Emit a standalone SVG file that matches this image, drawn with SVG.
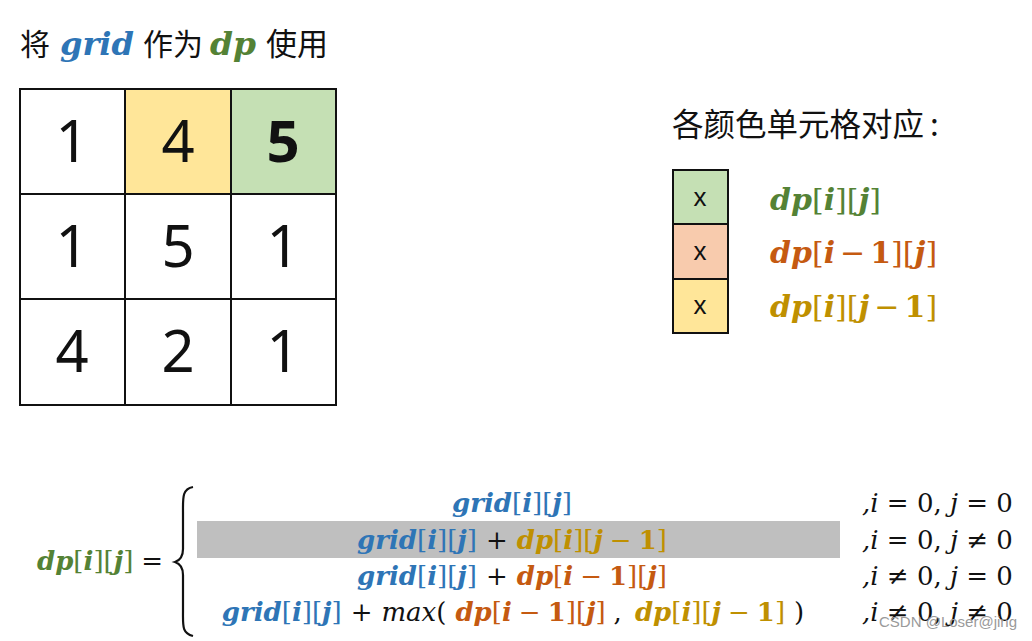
<svg xmlns="http://www.w3.org/2000/svg" width="1032" height="641" viewBox="0 0 1032 641">
<style>
.cjk{font-family:"Noto Sans CJK SC","Noto Sans",sans-serif;font-size:30px;fill:#111}
.m{font-family:"DejaVu Serif","Liberation Serif",serif;font-size:26px}
.v{font-weight:bold;font-style:italic}
.blue{fill:#2E75B6}.green{fill:#548235}.orange{fill:#C55A11}.gold{fill:#BF9000}.blk{fill:#111}
.cell{stroke:#111;stroke-width:2}
.dig{font-family:"Noto Sans",sans-serif;font-size:58px;fill:#111;text-anchor:middle}
.x{font-family:"Liberation Sans",sans-serif;font-size:26px;fill:#111;text-anchor:middle}
.cond{font-family:"DejaVu Serif",serif;font-size:26px;fill:#111;font-style:italic}
.lg{font-size:30px}
</style>
<rect width="1032" height="641" fill="#fff"/>
<g id="title">
<text x="20" y="55" class="cjk">将</text>
<text x="60" y="55" class="m v blue" style="font-size:32px" textLength="74" lengthAdjust="spacingAndGlyphs">grid</text>
<text x="143" y="55" class="cjk">作为</text>
<text x="210" y="55" class="m v green" style="font-size:32px" textLength="46" lengthAdjust="spacingAndGlyphs">dp</text>
<text x="266" y="55" class="cjk" style="font-size:31px">使用</text>
</g>
<g id="grid">
<rect x="20" y="89" width="105" height="105" fill="#fff" class="cell"/>
<rect x="125" y="89" width="106" height="105" fill="#FFE699" class="cell"/>
<rect x="231" y="89" width="105" height="105" fill="#C5E0B4" class="cell"/>
<rect x="20" y="194" width="105" height="105" fill="#fff" class="cell"/>
<rect x="125" y="194" width="106" height="105" fill="#fff" class="cell"/>
<rect x="231" y="194" width="105" height="105" fill="#fff" class="cell"/>
<rect x="20" y="299" width="105" height="106" fill="#fff" class="cell"/>
<rect x="125" y="299" width="106" height="106" fill="#fff" class="cell"/>
<rect x="231" y="299" width="105" height="106" fill="#fff" class="cell"/>
<text x="72" y="162" class="dig">1</text>
<text x="178" y="162" class="dig">4</text>
<text x="283" y="162" class="dig" font-weight="bold">5</text>
<text x="72" y="267" class="dig">1</text>
<text x="178" y="267" class="dig">5</text>
<text x="283" y="267" class="dig">1</text>
<text x="72" y="372" class="dig">4</text>
<text x="178" y="372" class="dig">2</text>
<text x="283" y="372" class="dig">1</text>
</g>
<g id="legend">
<text x="672" y="136" class="cjk" style="font-size:31.5px">各颜色单元格对应<tspan dx="6">:</tspan></text>
<rect x="673" y="170" width="55" height="54" fill="#C5E0B4" class="cell"/>
<rect x="673" y="224" width="55" height="55" fill="#F8CBAD" class="cell"/>
<rect x="673" y="279" width="55" height="54" fill="#FFE699" class="cell"/>
<text x="700" y="206" class="x">x</text>
<text x="700" y="260" class="x">x</text>
<text x="700" y="314" class="x">x</text>
<text x="770" y="210" class="m lg green"><tspan class="v">dp</tspan>[<tspan class="v">i</tspan>][<tspan class="v">j</tspan>]</text>
<text x="770" y="263" class="m lg orange"><tspan class="v">dp</tspan>[<tspan class="v">i</tspan><tspan dx="5">−</tspan><tspan dx="5" font-weight="bold">1</tspan>][<tspan class="v">j</tspan>]</text>
<text x="770" y="317" class="m lg gold"><tspan class="v">dp</tspan>[<tspan class="v">i</tspan>][<tspan class="v">j</tspan><tspan dx="5">−</tspan><tspan dx="5" font-weight="bold">1</tspan>]</text>
</g>
<g id="formula">
<rect x="197" y="521" width="643" height="37" fill="#BFBFBF"/>
<text x="37" y="570" class="m"><tspan class="green"><tspan class="v">dp</tspan>[<tspan class="v">i</tspan>][<tspan class="v">j</tspan>]</tspan><tspan class="blk" dx="8">=</tspan></text>
<path d="M193,487 C182,489 183,498 183,512 L183,549 C183,556 181,560 175,562 C181,564 183,568 183,575 L183,612 C183,626 182,633 193,636" fill="none" stroke="#111" stroke-width="2.2"/>
<text x="512" y="512" class="m" text-anchor="middle"><tspan class="blue"><tspan class="v">grid</tspan>[<tspan class="v">i</tspan>][<tspan class="v">j</tspan>]</tspan></text>
<text x="512" y="549" class="m" text-anchor="middle"><tspan class="blue"><tspan class="v">grid</tspan>[<tspan class="v">i</tspan>][<tspan class="v">j</tspan>]</tspan><tspan class="blk" dx="9">+</tspan><tspan class="gold" dx="9"><tspan class="v">dp</tspan>[<tspan class="v">i</tspan>][<tspan class="v">j</tspan><tspan dx="7">−</tspan><tspan dx="7" font-weight="bold">1</tspan>]</tspan></text>
<text x="512" y="585" class="m" text-anchor="middle"><tspan class="blue"><tspan class="v">grid</tspan>[<tspan class="v">i</tspan>][<tspan class="v">j</tspan>]</tspan><tspan class="blk" dx="9">+</tspan><tspan class="orange" dx="9"><tspan class="v">dp</tspan>[<tspan class="v">i</tspan><tspan dx="7">−</tspan><tspan dx="7" font-weight="bold">1</tspan>][<tspan class="v">j</tspan>]</tspan></text>
<text x="513" y="621" class="m" text-anchor="middle"><tspan class="blue"><tspan class="v">grid</tspan>[<tspan class="v">i</tspan>][<tspan class="v">j</tspan>]</tspan><tspan class="blk" dx="9">+</tspan><tspan class="blk" dx="9" font-style="italic">max</tspan><tspan class="blk">(</tspan><tspan class="orange" dx="9"><tspan class="v">dp</tspan>[<tspan class="v">i</tspan><tspan dx="7">−</tspan><tspan dx="7" font-weight="bold">1</tspan>][<tspan class="v">j</tspan>]</tspan><tspan class="blk" dx="8">,</tspan><tspan class="gold" dx="13"><tspan class="v">dp</tspan>[<tspan class="v">i</tspan>][<tspan class="v">j</tspan><tspan dx="7">−</tspan><tspan dx="7" font-weight="bold">1</tspan>]</tspan><tspan class="blk" dx="9">)</tspan></text>
<text x="862" y="512" class="cond">,i <tspan font-style="normal">= 0,</tspan> j <tspan font-style="normal">= 0</tspan></text>
<text x="862" y="549" class="cond">,i <tspan font-style="normal">= 0,</tspan> j <tspan font-style="normal">≠ 0</tspan></text>
<text x="862" y="585" class="cond">,i <tspan font-style="normal">≠ 0,</tspan> j <tspan font-style="normal">= 0</tspan></text>
<text x="862" y="621" class="cond">,i <tspan font-style="normal">≠ 0,</tspan> j <tspan font-style="normal">≠ 0</tspan></text>
<text x="1017" y="627" font-family="Liberation Sans,sans-serif" font-size="15" fill="#9a9a9a" text-anchor="end">CSDN @Loser@jing</text>
</g>
</svg>
